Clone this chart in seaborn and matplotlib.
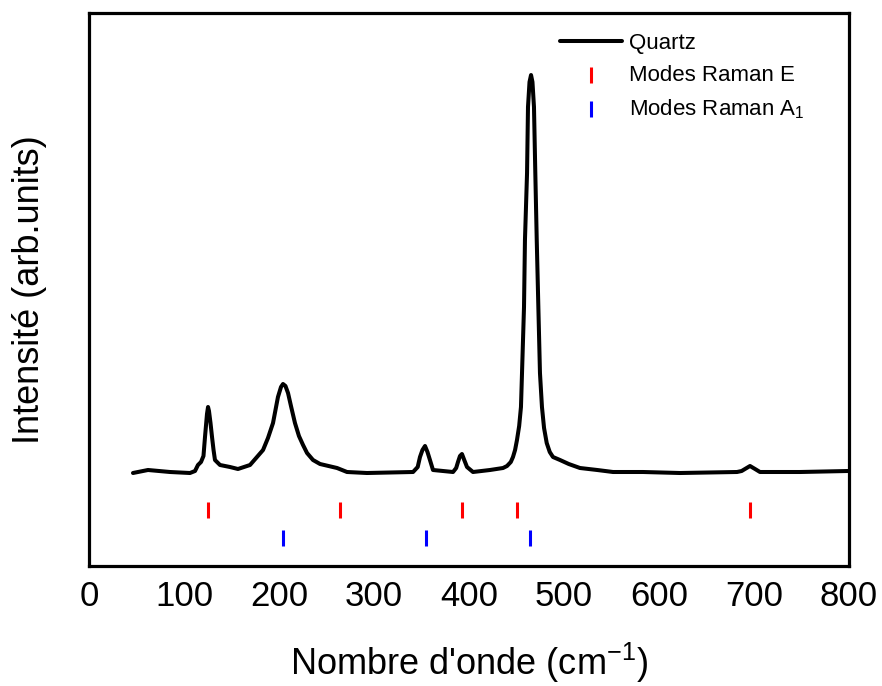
import numpy as np
import pandas as pd
import matplotlib
matplotlib.use("Agg")
import matplotlib.pyplot as plt
import seaborn as sns

# Spectre Raman du quartz
nombre_onde = [46.3, 62.1, 85.3, 106.3, 111.6, 114.7, 117.9, 120.5, 122.1, 124.2,
               125.3, 126.3, 127.9, 129.5, 131.1, 132.6, 137.9, 148.4, 156.8, 169.5,
               183.2, 188.4, 193.7, 198.9, 202.1, 204.2, 206.8, 209.5, 212.6, 216.8,
               221.0, 225.3, 229.5, 235.8, 243.2, 261.1, 271.6, 292.6, 341.1, 346.0,
               348.4, 351.0, 353.7, 356.3, 358.9, 362.1, 383.2, 386.5, 388.4, 390.5,
               392.6, 395.0, 397.9, 404.2, 422.1, 435.8, 440.0, 444.0, 446.3, 448.5,
               450.5, 452.8, 454.7, 455.8, 457.9, 458.9, 461.1, 462.1, 463.7, 465.3,
               466.8, 468.4, 469.8, 471.3, 473.0, 474.7, 476.8, 479.0, 481.8, 485.0,
               488.4, 495.8, 505.0, 516.8, 535.0, 551.6, 583.2, 622.1, 682.1, 687.0,
               690.5, 695.8, 701.1, 706.3, 748.4, 798.9]
intensite = [93, 96, 94, 93, 95, 101, 104, 110, 129, 152,
             159, 155, 143, 129, 116, 106, 101, 99, 97, 101,
             116, 128, 143, 169, 179, 182, 180, 173, 160, 143,
             130, 121, 113, 106, 102, 98, 94, 93, 94, 99,
             109, 116, 120, 114, 106, 96, 94, 98, 104, 110,
             112, 106, 99, 94, 96, 98, 100, 104, 109, 116,
             126, 140, 159, 193, 259, 326, 393, 459, 484, 491,
             484, 459, 393, 326, 259, 193, 159, 138, 123, 114,
             109, 106, 102, 98, 96, 94, 94, 93, 94, 95,
             97, 100, 97, 94, 94, 95]

# Positions des modes Raman
modes_E = [125, 264, 393, 450, 696]
modes_A1 = [204, 355, 464]

# Hauteur des repères sous le spectre
y_E = 56
y_A1 = 28

sns.set_style("white")
plt.rcParams['font.family'] = ['Liberation Sans', 'DejaVu Sans']
plt.rcParams['mathtext.fontset'] = 'custom'
plt.rcParams['mathtext.rm'] = 'Liberation Sans'
plt.rcParams['mathtext.it'] = 'Liberation Sans'
plt.rcParams['text.color'] = 'black'
plt.rcParams['axes.labelcolor'] = 'black'
plt.rcParams['xtick.color'] = 'black'
plt.rcParams['ytick.color'] = 'black'

df = pd.DataFrame({'x': nombre_onde, 'y': intensite})

fig = plt.figure(figsize=(8.82, 6.86), dpi=100)
ax = fig.add_axes([89 / 882, 1 - 566 / 686, 760 / 882, 553 / 686])

sns.lineplot(data=df, x='x', y='y', ax=ax, color='black', linewidth=2.9,
             estimator=None, label='Quartz', solid_joinstyle='round',
             solid_capstyle='round')
sns.scatterplot(x=modes_E, y=[y_E] * len(modes_E), ax=ax, marker='|', s=120,
                color='red', linewidth=2.2, label='Modes Raman E')
sns.scatterplot(x=modes_A1, y=[y_A1] * len(modes_A1), ax=ax, marker='|', s=120,
                color='blue', linewidth=2.2, label='Modes Raman A$_1$')

ax.set_xlim(0, 800)
ax.set_ylim(0, 553)
ax.set_xticks(np.arange(0, 801, 100))
ax.set_xticks(np.arange(50, 800, 100), minor=True)
ax.set_yticks([])
ax.tick_params(axis='x', which='major', direction='in', length=9, width=2,
               labelsize=25, pad=10, color='black', labelcolor='black')
ax.tick_params(axis='x', which='minor', direction='in', length=4.5, width=2,
               color='black')
for sp in ax.spines.values():
    sp.set_linewidth(2.3)
    sp.set_color('black')

ax.set_xlabel("Nombre d'onde (cm$^{-1}$)", fontsize=26, labelpad=20)
ax.set_ylabel("Intensité (arb.units)", fontsize=26, labelpad=30)

ax.legend(loc='upper left', bbox_to_anchor=(560 / 882, 1 - 33 / 686),
          bbox_transform=fig.transFigure, frameon=False, fontsize=16,
          borderpad=0, borderaxespad=0, handlelength=2.8, handletextpad=0.3,
          labelspacing=0.5)

fig.savefig('out.png', dpi=100)
